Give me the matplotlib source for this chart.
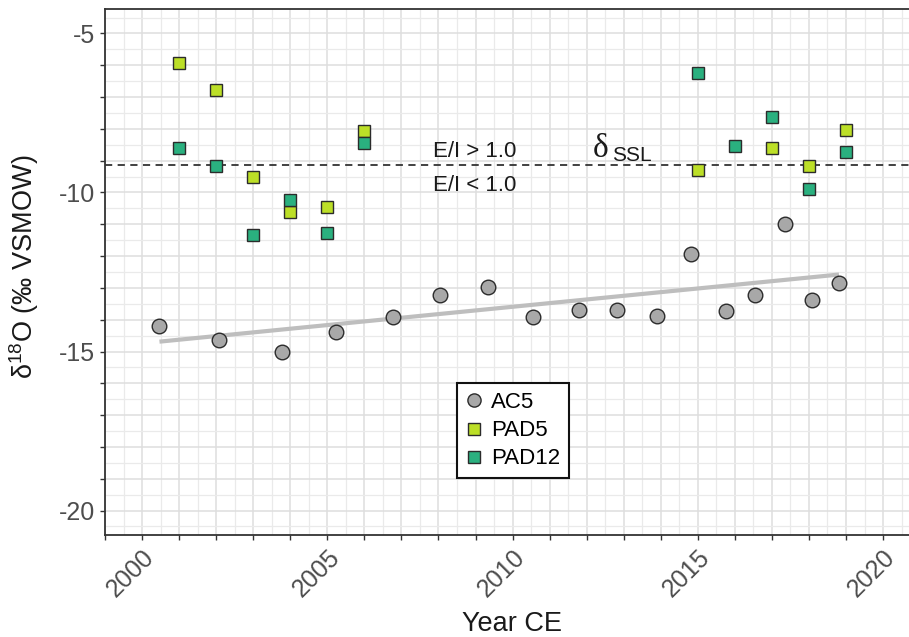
import matplotlib
matplotlib.use("Agg")
import matplotlib.pyplot as plt
from matplotlib.lines import Line2D
from matplotlib.transforms import ScaledTranslation
import numpy as np

plt.rcParams['font.family'] = ['Liberation Sans', 'DejaVu Sans']
plt.rcParams['mathtext.fontset'] = 'custom'
plt.rcParams['mathtext.rm'] = 'Liberation Sans'
plt.rcParams['mathtext.it'] = 'Liberation Sans:italic'

# ---- data ----
ac5_year = [2000.45, 2002.07, 2003.79, 2005.23, 2006.76, 2008.03, 2009.35, 2010.56,
            2011.80, 2012.83, 2013.89, 2014.81, 2015.75, 2016.54, 2017.35, 2018.07, 2018.81]
ac5_d18o = [-14.21, -14.65, -15.00, -14.39, -13.90, -13.21, -12.97, -13.92,
            -13.70, -13.69, -13.87, -11.92, -13.72, -13.21, -11.00, -13.37, -12.86]

pad5_year = [2001, 2002, 2003, 2004, 2005, 2006, 2015, 2017, 2018, 2019]
pad5_d18o = [-5.92, -6.77, -9.50, -10.60, -10.45, -8.08, -9.28, -8.59, -9.18, -8.03]

pad12_year = [2001, 2002, 2003, 2004, 2005, 2006, 2015, 2016, 2017, 2018, 2019]
pad12_d18o = [-8.60, -9.18, -11.35, -10.24, -11.27, -8.44, -6.23, -8.54, -7.64, -9.89, -8.72]

trend_year = [2000.47, 2018.81]
trend_d18o = [-14.69, -12.58]

ssl_value = -9.15

x_ticks = list(range(1999, 2021))
x_labels = [str(y) if y % 5 == 0 else '' for y in x_ticks]
y_ticks = list(range(-20, -4))
y_labels = [str(v) if v % 5 == 0 else '' for v in y_ticks]

# ---- figure ----
W, H = 909, 637
fig = plt.figure(figsize=(W / 100, H / 100), dpi=100)
ax = fig.add_axes([105 / W, 1 - 535 / H, (W - 105) / W, (535 - 9) / H])

ax.set_xlim(1999.0, 2020.70)
ax.set_ylim(-20.77, -4.23)

ax.set_xticks(x_ticks)
ax.set_xticklabels(x_labels, rotation=45, ha='right', va='top', rotation_mode='anchor')
ax.set_yticks(y_ticks)
ax.set_yticklabels(y_labels)
ax.set_xticks(np.arange(1999.5, 2021, 1.0), minor=True)
ax.set_yticks(np.arange(-20.5, -4, 1.0), minor=True)

shift = ScaledTranslation(5 / 100, 0, fig.dpi_scale_trans)
for lbl in ax.get_xticklabels():
    lbl.set_transform(lbl.get_transform() + shift)

ax.grid(True, which='major', color='#DEDEDE', linewidth=1.1, zorder=0)
ax.grid(True, which='minor', color='#EAEAEA', linewidth=0.9, zorder=0)
ax.set_axisbelow(True)

ax.tick_params(which='major', length=3.6, width=1.0, color='#333333',
               labelsize=18, labelcolor='#4D4D4D', pad=3.5)
ax.tick_params(which='minor', length=0)

for side in ['left', 'top', 'bottom']:
    ax.spines[side].set_color('#333333')
    ax.spines[side].set_linewidth(1.3)
ax.spines['right'].set_visible(False)

# threshold line
ax.axhline(ssl_value, color='#333333', linestyle=(0, (4, 3)), linewidth=1.3, zorder=2)

# trend line
ax.plot(trend_year, trend_d18o, color='#BEBEBE', linewidth=3, solid_capstyle='butt', zorder=3)

ax.plot(ac5_year, ac5_d18o, linestyle='none', marker='o', markersize=10.5,
        markerfacecolor='#A8A8A8', markeredgecolor='#2B2B2B', markeredgewidth=1.0, zorder=4)
ax.plot(pad5_year, pad5_d18o, linestyle='none', marker='s', markersize=9,
        markerfacecolor='#BCDF27', markeredgecolor='#2B2B2B', markeredgewidth=1.0, zorder=5)
ax.plot(pad12_year, pad12_d18o, linestyle='none', marker='s', markersize=9,
        markerfacecolor='#2AB07F', markeredgecolor='#2B2B2B', markeredgewidth=1.0, zorder=6)

# annotations
ax.text(2007.86, -8.87, 'E/I > 1.0', fontsize=16, color='#1A1A1A', ha='left', va='baseline')
ax.text(2007.86, -9.95, 'E/I < 1.0', fontsize=16, color='#1A1A1A', ha='left', va='baseline')
ax.text(2012.17, -8.89, 'δ', fontsize=24, family='Liberation Serif', color='#1A1A1A',
        ha='left', va='baseline')
ax.annotate('SSL', xy=(2012.17, -8.89), xytext=(13.7, -3.0), textcoords='offset points',
            fontsize=15, color='#1A1A1A', ha='left', va='baseline')

ax.set_xlabel('Year CE', fontsize=19.5, color='#1A1A1A')
ax.xaxis.set_label_coords((512 - 105) / 804, (535 - 611) / 526)
ax.set_ylabel('δ$^{\\mathregular{18}}$O (‰ VSMOW)', fontsize=19.5, color='#1A1A1A')
ax.yaxis.set_label_coords((41 - 105) / 804, (535 - 266.5) / 526)

handles = [
    Line2D([], [], linestyle='none', marker='o', markersize=9.5, markerfacecolor='#A8A8A8',
           markeredgecolor='#2B2B2B', markeredgewidth=1.0, label='AC5'),
    Line2D([], [], linestyle='none', marker='s', markersize=8, markerfacecolor='#BCDF27',
           markeredgecolor='#2B2B2B', markeredgewidth=1.0, label='PAD5'),
    Line2D([], [], linestyle='none', marker='s', markersize=8, markerfacecolor='#2AB07F',
           markeredgecolor='#2B2B2B', markeredgewidth=1.0, label='PAD12'),
]
leg = ax.legend(handles=handles, loc='upper left', bbox_to_anchor=(0.4374, 0.2884),
                borderaxespad=0, fontsize=16, frameon=True, fancybox=False,
                handlelength=0.8, handletextpad=0.35, labelspacing=0.32,
                borderpad=0.4)
leg.get_frame().set_edgecolor('#111111')
leg.get_frame().set_linewidth(1.5)
leg.get_frame().set_facecolor('white')
leg.get_frame().set_alpha(1)

fig.savefig('out.png', dpi=100)
